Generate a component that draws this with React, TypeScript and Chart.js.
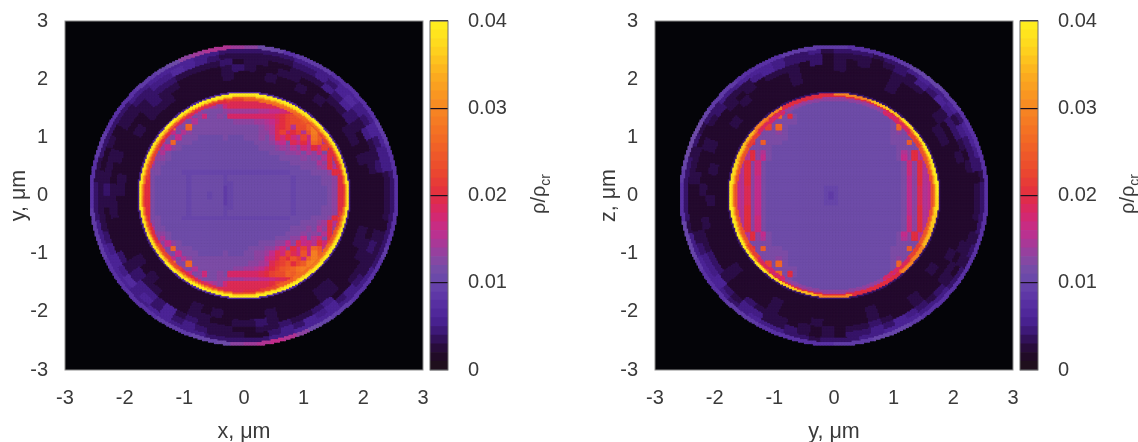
import React, { useEffect, useRef } from "react";
import { Chart, registerables } from "chart.js";

Chart.register(...registerables);

// Cell codes: index in this alphabet = density in units of 0.001 rho_cr
const LEVEL_CODES = "0123456789abcdefghijklmnopqrstuvwxyzABCDE";
const LEVEL_UNIT = 0.001;

const axisTicks = [-3, -2, -1, 0, 1, 2, 3];
const colorbarTicks = [0, 0.01, 0.02, 0.03, 0.04];

// Interior of the critical surface, rows from y=+1.75 down, columns from x=-1.75
const xyInteriorRows = [
  "bbbbbbbbbbbbbbkkkkkkkkkkkkkkbbbbbbbbbbbb",
  "bbbbbbbbbbbbbbfjjjjjjjjjjjkkmbbbbbbbbbbb",
  "bbbbbbbbbbbkgfedhjjjjjjjjjjkmnnbbbbbbbbb",
  "bbbbbbbbbmfdccccdeeeeeeffgghijkmobbbbbbb",
  "bbbbbbbbrgcdhccdciiiiiiiiijkmnopqbbbbbbb",
  "bbbbbbbmdcfcccccccddddeefgikmnnoqrbbbbbb",
  "bbbbbbsdcqcccccccccccccdefjkmfnnqtsbbbbb",
  "bbbbbmgcfdcccccccccccccddfjmhkmfotqbbbbb",
  "bbbbtdcgcccbbbbbcbbbcccdcejhkhfmhspbbbbb",
  "bbbrfcqcccbbbbbbbbbbbbcccdfgcjhkgqofbbbb",
  "bbkgdgdcbbbbbbbbbbbbbbbcccdedfdhfkhmbbbb",
  "bbrcfcbbbbbbbbbbbbbbbbbbbcccddecfdhckbbb",
  "bbjddcbbbbbbbbbbbbbbbbbbbbbccccdcdcfkbbb",
  "bkfccbbbbbbbbbbbbbbbbbbbbbbbbcccccfdkdbb",
  "bkdcbbbbbbbbbbbbbbbbbbbbbbbbbbbcccdekfbb",
  "bkccbbbbaaaaaaaaaaaaaaaaaaaaabbbbcccdkdb",
  "bkcbbbbbbabbbbbbabbbbbbbbbbbbabbbbbccdkb",
  "bkcbbbbbbabbbbbbaabbbbbbbbbbbabbbbbccdkb",
  "bkcbbbbbbabbbbbb9abbbbbbbbbbbabbbbbbcdkb",
  "bkcbbbbbbabbbabb9abbbbbbbbbbbabbbbbbcdkb",
  "bkcbbbbbbabbbabb9abbbbbbbbbbbabbbbbbcdkb",
  "bkcbbbbbbabbbbbb9abbbbbbbbbbbabbbbbbcdkb",
  "bkcbbbbbbabbbbbbaabbbbbbbbbbbabbbbbccdkb",
  "bkcbbbbbbabbbbbbabbbbbbbbbbbbabbbbbccdkb",
  "bkccbbbbaaaaaaaaaaaaaaaaaaaaabbbbcccdkdb",
  "bkdcbbbbbbbbbbbbbbbbbbbbbbbbbbbcccdekfbb",
  "bkfccbbbbbbbbbbbbbbbbbbbbbbbbcccdcfdkdbb",
  "bbjddcbbbbbbbbbbbbbbbbbbbbbbcccdcdcfkbbb",
  "bbrcfcbbbbbbbbbbbbbbbbbbbbcccddgcfhckbbb",
  "bbkgdgdcbbbbbbbbbbbbbbbcccddgdjghfkhmbbb",
  "bbbrfcqcccbbbbbbbbbbbcccddfhdkgmhqofbbbb",
  "bbbbtdcgcccbbbbbcbbbccddegjhmjhohtpbbbbb",
  "bbbbbmgcfdccccccccccccddghjmkomhqtqbbbbb",
  "bbbbbbsdcqcccccccccccddefjlmoknptusbbbbb",
  "bbbbbbbmdcfcccccccddeefgikmopqstrbbbbbbb",
  "bbbbbbbbrgcdhccdciiiiiijkmnnqprsbbbbbbbb",
  "bbbbbbbbbmfdcccddeeefffgghijknpobbbbbbbb",
  "bbbbbbbbbbbkgfedhjjjjjjjjkmmnnnbbbbbbbbb",
  "bbbbbbbbbbbbbbfjjjjjjjjjjjkkmbbbbbbbbbbb",
  "bbbbbbbbbbbbbbkkkkkkkkkkkkkkbbbbbbbbbbbb",
];

const xyRingEdges = [1.63, 1.675, 1.7, 1.725, 1.755, 1.785, 1.86, 2.0, 2.14, 2.26, 2.36, 2.46, 2.53, 2.585];
const xyRingValues = [
  "kkkmoqrrpmkjjjkmmkkkkmmkjjjkmprrqomk",
  "nnoqssttsqoopppqqqoonooqqpppoqsttsso",
  "vvwyzAAAAAAzyyxxxwvvvwxxxyyzAAAAAzwv",
  "DDDEEEEEEEEEEEDDDDDDDDEEEEEEEEEEEEDD",
  "555666777777666555555566777777666555",
  "222222222222222222222222222222222222",
  "222222222222222222222222222222222222",
  "222323322232322322232222233323222233222222323222232322223222233222233222",
  "223322343322233223432222334322223223332222343322233223343222233222332222",
  "224335346453332233243333444333223334322224345546343332233433452233343222",
  "335546457645443333334567554433232233333456575646454333224546564543333233",
  "445566556655554444445566665544444334445566665566555444445566665555444444",
  "888899888889998abdeffedba9988889988889999888888999aabdefgfdba99888898888",
];

const yzInteriorRows = [
  "bbbbbbbbbbbbbbbbbbbbbbbbbbbbbbbbbbbbbbbb",
  "bbbbbbbbbbbbbbbbbbbbbbbbbbbbbbbbbbbbbbbb",
  "bbbbbbbbbbbbcbbbbbbbbbbbbbbbbbbbbcbbbbbb",
  "bbbbbbbbbcbcbbbbbbbbbbbbbbbbbbbbcbcbbbbb",
  "bbbbbbbbcqckcbbbbbbbbbbbbbbbbbbkcqcbbbbb",
  "bbbbbbbccccccbbbbbbbbbbbbbbbbbbccccbbbbb",
  "bbbbbbcmcqcbbbbbbbbbbbbbbbbbbbbcqcmcbbbb",
  "bbbbbccccdcbbbbbbbbbbbbbbbbbbbbcdcccbbbb",
  "bbbbcccccccbbbbbbbbbbbbbbbbbbbbcccccccbb",
  "bbbbkcpcccbbbbbbbbbbbbbbbbbbbbbcccpckbbb",
  "bbbcccccbbbbbbbbbbbbbbbbbbbbbbbbcccccbbb",
  "bbgfkdfcbbbbbbbbbbbbbbbbbbbbbbbbcfdkfgbb",
  "bbgfkdgcbbbbbbbbbbbbbbbbbbbbbbbbcgdkfgbb",
  "bgfkdhcbbbbbbbbbbbbbbbbbbbbbbbbbbchdkfgb",
  "bgfkdhcbbbbbbbbbbbbbbbbbbbbbbbbbbchdkfgb",
  "bgfkdhcbbbbbbbbbbbbbbbbbbbbbbbbbbchdkfgb",
  "bgfkdgcbbbbbbbbbbbbbbbbbbbbbbbbbbcgdkfgb",
  "bgfkdgcbbbbbbbbbbbbbbbbbbbbbbbbbbcgdkfgb",
  "bgfjdgcbbbbbbbbbbbaaabbbbbbbbbbbbcgdjfgb",
  "bgfjdgcbbbbbbbbbbba9abbbbbbbbbbbbcgdjfgb",
  "bgfjdgcbbbbbbbbbbba9abbbbbbbbbbbbcgdjfgb",
  "bgfjdgcbbbbbbbbbbbaaabbbbbbbbbbbbcgdjfgb",
  "bgfkdgcbbbbbbbbbbbbbbbbbbbbbbbbbbcgdkfgb",
  "bgfkdgcbbbbbbbbbbbbbbbbbbbbbbbbbbcgdkfgb",
  "bgfkdhcbbbbbbbbbbbbbbbbbbbbbbbbbbchdkfgb",
  "bgfkdhcbbbbbbbbbbbbbbbbbbbbbbbbbbchdkfgb",
  "bgfkdhcbbbbbbbbbbbbbbbbbbbbbbbbbbchdkfgb",
  "bbgfkdgcbbbbbbbbbbbbbbbbbbbbbbbbcgdkfgbb",
  "bbgfkdfcbbbbbbbbbbbbbbbbbbbbbbbbcfdkfgbb",
  "bbbcccccbbbbbbbbbbbbbbbbbbbbbbbbcccccbbb",
  "bbbbkcpcccbbbbbbbbbbbbbbbbbbbbbcccpckbbb",
  "bbbbcccccccbbbbbbbbbbbbbbbbbbbbcccccccbb",
  "bbbbbccccdcbbbbbbbbbbbbbbbbbbbbcdcccbbbb",
  "bbbbbbcmcqcbbbbbbbbbbbbbbbbbbbbcqcmcbbbb",
  "bbbbbbbccccccbbbbbbbbbbbbbbbbbbccccbbbbb",
  "bbbbbbbbcqckcbbbbbbbbbbbbbbbbbbkcqcbbbbb",
  "bbbbbbbbbcbcbbbbbbbbbbbbbbbbbbbbcbcbbbbb",
  "bbbbbbbbbbbbcbbbbbbbbbbbbbbbbbbbbcbbbbbb",
  "bbbbbbbbbbbbbbbbbbbbbbbbbbbbbbbbbbbbbbbb",
  "bbbbbbbbbbbbbbbbbbbbbbbbbbbbbbbbbbbbbbbb",
];

const yzRingEdges = [1.63, 1.675, 1.7, 1.725, 1.755, 1.785, 1.86, 2.0, 2.14, 2.26, 2.36, 2.46, 2.53, 2.585];
const yzRingValues = [
  "ooomiiddddddiimoooooomiiddddddiimooo",
  "ttqmjgeeeeeegjmqttttqmjgeeeeeegjmqtt",
  "AAxtqkkkkkkkkqtxAAAAxtqkkkkkkkkqtxAA",
  "EEEDCAzuukkkuuzACDEEEEDCAzuukkkuuzAC",
  "444444444444444444444444444444444444",
  "222222222222222222222222222222222222",
  "222222222222222222222222222222222222",
  "222223322222322222222322222232222322322222232222322222222322222232222222",
  "222322232222322223222322223222232223223222232222322232222322232222322222",
  "223234432233322323242333232322232232222334432243332323233432232233232222",
  "324445356453432333244456533343223332222345564355334323244546543432333233",
  "434566465565443444354456665544343444443556665456554434445566655544343444",
  "888888899aaa98888999998888999abbba9888aaa9888999888888999aaa988888888888",
];

// Colour bar segments, in the same 0.001 units
const colorbarLevels = [
  0, 1, 2, 3, 4, 5, 6, 7, 8, 9, 10, 11, 12, 13, 14, 15, 16, 17, 18, 19, 20,
  21, 22, 23, 24, 25, 26, 27, 28, 29, 30, 31, 32, 33, 34, 35, 36, 37, 38, 39,
];

const PALETTE_STOPS: [number, number, number, number][] = [
  [0, 32, 18, 26],
  [1, 30, 12, 32],
  [2, 36, 10, 46],
  [3, 44, 14, 72],
  [4, 55, 20, 105],
  [5, 68, 30, 135],
  [6, 76, 36, 150],
  [8, 90, 50, 165],
  [10, 104, 70, 170],
  [11, 110, 76, 168],
  [12, 124, 76, 166],
  [14, 160, 60, 155],
  [16, 195, 45, 140],
  [18, 215, 40, 105],
  [20, 226, 45, 65],
  [23, 235, 75, 45],
  [27, 243, 110, 35],
  [30, 247, 135, 35],
  [34, 252, 175, 30],
  [37, 254, 215, 30],
  [40, 255, 240, 30],
];

function levelColor(level: number): string {
  for (let i = 1; i < PALETTE_STOPS.length; i++) {
    const a = PALETTE_STOPS[i - 1];
    const b = PALETTE_STOPS[i];
    if (level <= b[0]) {
      const t = (level - a[0]) / (b[0] - a[0]);
      const m = (k: number) => Math.round(a[k] + (b[k] - a[k]) * t);
      return `rgb(${m(1)},${m(2)},${m(3)})`;
    }
  }
  return "rgb(255,240,30)";
}

const INK = "#3a3a3a";
const FONT = '"Liberation Sans", Arial, sans-serif';
const GRID_STEP = 0.025;
const INTERIOR_HALF = 1.75;

function levelAt(x: number, y: number, rows: string[], edges: number[], rings: string[]): number {
  const r = Math.hypot(x, y);
  if (r >= edges[edges.length - 1]) return 0;
  if (r < edges[0]) {
    const n = rows.length;
    const row = rows[Math.min(n - 1, Math.floor(((INTERIOR_HALF - y) / (2 * INTERIOR_HALF)) * n))];
    const col = Math.min(39, Math.floor(((x + INTERIOR_HALF) / (2 * INTERIOR_HALF)) * 40));
    return LEVEL_CODES.indexOf(row[col] ?? "b");
  }
  let i = 0;
  while (r >= edges[i + 1]) i++;
  const ring = rings[i];
  let a = Math.atan2(y, x) / (2 * Math.PI);
  if (a < 0) a += 1;
  return LEVEL_CODES.indexOf(ring[Math.floor(a * ring.length) % ring.length]);
}

function buildDatasets(rows: string[], edges: number[], rings: string[]) {
  const buckets: { x: number; y: number }[][] = Array.from({ length: LEVEL_CODES.length }, () => []);
  const n = Math.round(6 / GRID_STEP);
  for (let iy = 0; iy < n; iy++) {
    for (let ix = 0; ix < n; ix++) {
      const x = -3 + (ix + 0.5) * GRID_STEP;
      const y = -3 + (iy + 0.5) * GRID_STEP;
      const level = levelAt(x, y, rows, edges, rings);
      if (level > 0) buckets[level].push({ x, y });
    }
  }
  return buckets
    .map((data, level) => ({
      data,
      backgroundColor: levelColor(level),
      borderWidth: 0,
      pointStyle: "rect" as const,
      pointRadius: 1.45,
      pointHoverRadius: 1.45,
      level,
    }))
    .reverse();
}

const plotFrame = {
  id: "plotFrame",
  beforeDatasetsDraw(chart: any) {
    const { ctx, chartArea: a } = chart;
    ctx.save();
    ctx.fillStyle = "#040408";
    ctx.fillRect(a.left, a.top, a.width, a.height);
    ctx.restore();
  },
  afterDraw(chart: any) {
    const { ctx, chartArea: a } = chart;
    ctx.save();
    ctx.strokeStyle = "#8c8c8c";
    ctx.lineWidth = 1;
    ctx.strokeRect(a.left, a.top, a.width, a.height);
    ctx.restore();
  },
};

function noEndPadding(s: any) {
  s.paddingLeft = 0;
  s.paddingRight = 0;
  s.paddingTop = 0;
  s.paddingBottom = 0;
}

function Heatmap(props: {
  left: number;
  rows: string[];
  edges: number[];
  rings: string[];
  xTitle: string;
  yTitle: string;
}) {
  const ref = useRef<HTMLCanvasElement>(null);
  useEffect(() => {
    const chart = new Chart(ref.current!, {
      type: "scatter",
      data: { datasets: buildDatasets(props.rows, props.edges, props.rings) as any },
      plugins: [plotFrame],
      options: {
        animation: false,
        responsive: false,
        events: [],
        layout: { padding: { top: 21, right: 7, left: 0, bottom: 0 } },
        plugins: { legend: { display: false }, tooltip: { enabled: false } },
        scales: {
          x: {
            type: "linear",
            min: -3,
            max: 3,
            afterBuildTicks: (s: any) => {
              s.ticks = axisTicks.map((value) => ({ value }));
            },
            afterFit: (s: any) => {
              s.height = 72;
              noEndPadding(s);
            },
            grid: { display: false },
            border: { display: false },
            ticks: { color: INK, font: { family: FONT, size: 20 }, padding: 8, maxRotation: 0 },
            title: {
              display: true,
              text: props.xTitle,
              color: INK,
              font: { family: FONT, size: 21.5 },
              padding: { top: 6, bottom: -3 },
            },
          },
          y: {
            type: "linear",
            min: -3,
            max: 3,
            afterBuildTicks: (s: any) => {
              s.ticks = axisTicks.map((value) => ({ value }));
            },
            afterFit: (s: any) => {
              s.width = 65;
              noEndPadding(s);
            },
            grid: { display: false },
            border: { display: false },
            ticks: { color: INK, font: { family: FONT, size: 20 }, padding: 9 },
            title: {
              display: true,
              text: props.yTitle,
              color: INK,
              font: { family: FONT, size: 21.5 },
              padding: { top: 6, bottom: 0 },
            },
          },
        },
      },
    });
    return () => chart.destroy();
  }, []);
  return (
    <canvas
      ref={ref}
      width={430}
      height={442}
      style={{ position: "absolute", left: props.left, top: 0, width: 430, height: 442 }}
    />
  );
}

function Colorbar(props: { left: number }) {
  const ref = useRef<HTMLCanvasElement>(null);
  useEffect(() => {
    const chart = new Chart(ref.current!, {
      type: "bar",
      data: {
        labels: ["rho"],
        datasets: colorbarLevels.map((lv) => ({
          data: [[lv * LEVEL_UNIT, (lv + 1) * LEVEL_UNIT]],
          backgroundColor: levelColor(lv + 0.5),
          borderWidth: 0,
          grouped: false,
          barPercentage: 1,
          categoryPercentage: 1,
        })) as any,
      },
      plugins: [
        {
          id: "barFrame",
          afterDraw(c: any) {
            const { ctx, chartArea: a } = c;
            ctx.save();
            ctx.strokeStyle = "#6e6e6e";
            ctx.lineWidth = 1;
            ctx.strokeRect(a.left, a.top, a.width, a.height);
            ctx.restore();
          },
        },
      ],
      options: {
        animation: false,
        responsive: false,
        events: [],
        layout: { padding: { top: 21, left: 5, right: 0, bottom: 0 } },
        plugins: { legend: { display: false }, tooltip: { enabled: false } },
        scales: {
          x: {
            display: true,
            grid: { display: false },
            border: { display: false },
            ticks: { display: false },
            afterFit: (s: any) => {
              s.height = 72;
              noEndPadding(s);
            },
          },
          y: {
            position: "right",
            min: 0,
            max: 0.04,
            afterBuildTicks: (s: any) => {
              s.ticks = colorbarTicks.map((value) => ({ value }));
            },
            afterFit: (s: any) => {
              s.width = 82;
              noEndPadding(s);
            },
            grid: { display: true, color: "#1a1020", lineWidth: 1.2, drawTicks: false, z: 1 },
            border: { display: false },
            ticks: {
              color: INK,
              font: { family: FONT, size: 20 },
              padding: 20,
              callback: (v: any) => String(v),
            },
          },
        },
      },
    });
    return () => chart.destroy();
  }, []);
  return (
    <canvas
      ref={ref}
      width={105}
      height={442}
      style={{ position: "absolute", left: props.left, top: 0, width: 105, height: 442 }}
    />
  );
}

function BarTitle(props: { left: number }) {
  return (
    <div
      style={{
        position: "absolute",
        left: props.left,
        top: 194,
        transform: "translate(-50%,-50%) rotate(-90deg)",
        font: `20px ${FONT}`,
        color: INK,
        whiteSpace: "nowrap",
        lineHeight: "20px",
      }}
    >
      ρ/ρ<sub style={{ fontSize: 14, lineHeight: 0 }}>cr</sub>
    </div>
  );
}

export default function App() {
  return (
    <div
      style={{
        position: "absolute",
        left: 0,
        top: 0,
        width: 1138,
        height: 442,
        overflow: "hidden",
        background: "#fff",
        filter: "blur(0.6px)",
      }}
    >
      <Heatmap left={0} rows={xyInteriorRows} edges={xyRingEdges} rings={xyRingValues} xTitle="x, μm" yTitle="y, μm" />
      <Colorbar left={425} />
      <BarTitle left={538} />
      <Heatmap left={590} rows={yzInteriorRows} edges={yzRingEdges} rings={yzRingValues} xTitle="y, μm" yTitle="z, μm" />
      <Colorbar left={1015} />
      <BarTitle left={1127} />
    </div>
  );
}
